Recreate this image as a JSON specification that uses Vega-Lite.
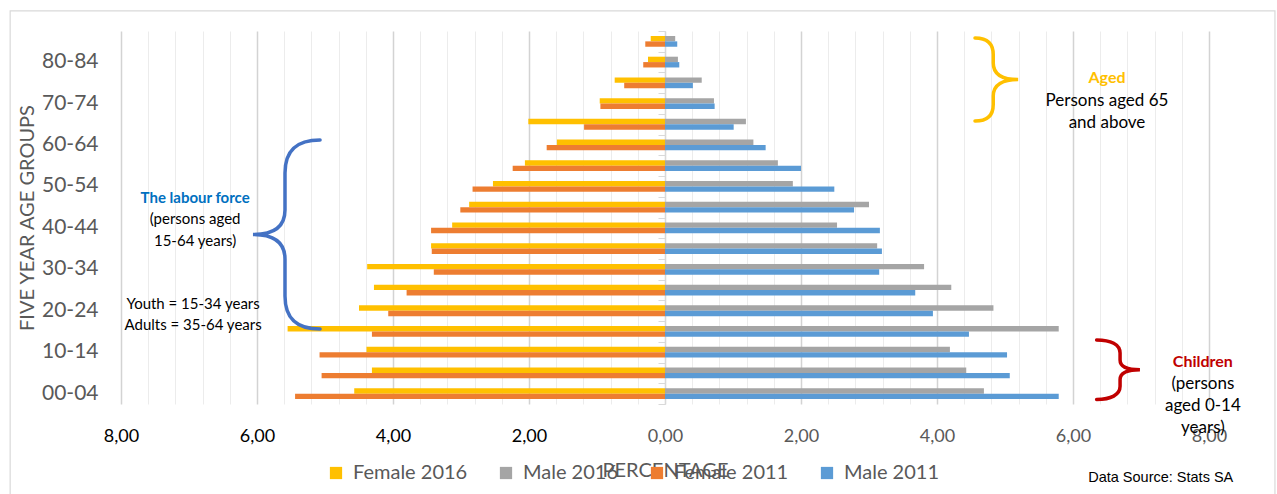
{
  "$schema": "https://vega.github.io/schema/vega-lite/v6.json",
  "width": 1088,
  "height": 373,
  "autosize": "none",
  "padding": {"left": 121, "top": 31, "right": 68, "bottom": 90},
  "background": "white",
  "config": {"view": {"stroke": null}, "font": "Lato"},
  "datasets": {
    "pyramid": [
      {"age": "85+", "series": "Female 2016", "year": "2016", "value": -0.21},
      {"age": "85+", "series": "Female 2011", "year": "2011", "value": -0.29},
      {"age": "85+", "series": "Male 2016", "year": "2016", "value": 0.15},
      {"age": "85+", "series": "Male 2011", "year": "2011", "value": 0.18},
      {"age": "80-84", "series": "Female 2016", "year": "2016", "value": -0.25},
      {"age": "80-84", "series": "Female 2011", "year": "2011", "value": -0.32},
      {"age": "80-84", "series": "Male 2016", "year": "2016", "value": 0.19},
      {"age": "80-84", "series": "Male 2011", "year": "2011", "value": 0.21},
      {"age": "75-79", "series": "Female 2016", "year": "2016", "value": -0.74},
      {"age": "75-79", "series": "Female 2011", "year": "2011", "value": -0.60},
      {"age": "75-79", "series": "Male 2016", "year": "2016", "value": 0.54},
      {"age": "75-79", "series": "Male 2011", "year": "2011", "value": 0.41},
      {"age": "70-74", "series": "Female 2016", "year": "2016", "value": -0.96},
      {"age": "70-74", "series": "Female 2011", "year": "2011", "value": -0.95},
      {"age": "70-74", "series": "Male 2016", "year": "2016", "value": 0.72},
      {"age": "70-74", "series": "Male 2011", "year": "2011", "value": 0.73},
      {"age": "65-69", "series": "Female 2016", "year": "2016", "value": -2.01},
      {"age": "65-69", "series": "Female 2011", "year": "2011", "value": -1.19},
      {"age": "65-69", "series": "Male 2016", "year": "2016", "value": 1.19},
      {"age": "65-69", "series": "Male 2011", "year": "2011", "value": 1.01},
      {"age": "60-64", "series": "Female 2016", "year": "2016", "value": -1.59},
      {"age": "60-64", "series": "Female 2011", "year": "2011", "value": -1.74},
      {"age": "60-64", "series": "Male 2016", "year": "2016", "value": 1.30},
      {"age": "60-64", "series": "Male 2011", "year": "2011", "value": 1.48},
      {"age": "55-59", "series": "Female 2016", "year": "2016", "value": -2.06},
      {"age": "55-59", "series": "Female 2011", "year": "2011", "value": -2.24},
      {"age": "55-59", "series": "Male 2016", "year": "2016", "value": 1.66},
      {"age": "55-59", "series": "Male 2011", "year": "2011", "value": 2.00},
      {"age": "50-54", "series": "Female 2016", "year": "2016", "value": -2.53},
      {"age": "50-54", "series": "Female 2011", "year": "2011", "value": -2.83},
      {"age": "50-54", "series": "Male 2016", "year": "2016", "value": 1.88},
      {"age": "50-54", "series": "Male 2011", "year": "2011", "value": 2.49},
      {"age": "45-49", "series": "Female 2016", "year": "2016", "value": -2.88},
      {"age": "45-49", "series": "Female 2011", "year": "2011", "value": -3.01},
      {"age": "45-49", "series": "Male 2016", "year": "2016", "value": 3.00},
      {"age": "45-49", "series": "Male 2011", "year": "2011", "value": 2.78},
      {"age": "40-44", "series": "Female 2016", "year": "2016", "value": -3.13},
      {"age": "40-44", "series": "Female 2011", "year": "2011", "value": -3.44},
      {"age": "40-44", "series": "Male 2016", "year": "2016", "value": 2.53},
      {"age": "40-44", "series": "Male 2011", "year": "2011", "value": 3.16},
      {"age": "35-39", "series": "Female 2016", "year": "2016", "value": -3.44},
      {"age": "35-39", "series": "Female 2011", "year": "2011", "value": -3.43},
      {"age": "35-39", "series": "Male 2016", "year": "2016", "value": 3.12},
      {"age": "35-39", "series": "Male 2011", "year": "2011", "value": 3.19},
      {"age": "30-34", "series": "Female 2016", "year": "2016", "value": -4.38},
      {"age": "30-34", "series": "Female 2011", "year": "2011", "value": -3.40},
      {"age": "30-34", "series": "Male 2016", "year": "2016", "value": 3.81},
      {"age": "30-34", "series": "Male 2011", "year": "2011", "value": 3.15},
      {"age": "25-29", "series": "Female 2016", "year": "2016", "value": -4.28},
      {"age": "25-29", "series": "Female 2011", "year": "2011", "value": -3.80},
      {"age": "25-29", "series": "Male 2016", "year": "2016", "value": 4.21},
      {"age": "25-29", "series": "Male 2011", "year": "2011", "value": 3.68},
      {"age": "20-24", "series": "Female 2016", "year": "2016", "value": -4.50},
      {"age": "20-24", "series": "Female 2011", "year": "2011", "value": -4.07},
      {"age": "20-24", "series": "Male 2016", "year": "2016", "value": 4.83},
      {"age": "20-24", "series": "Male 2011", "year": "2011", "value": 3.94},
      {"age": "15-19", "series": "Female 2016", "year": "2016", "value": -5.55},
      {"age": "15-19", "series": "Female 2011", "year": "2011", "value": -4.31},
      {"age": "15-19", "series": "Male 2016", "year": "2016", "value": 5.79},
      {"age": "15-19", "series": "Male 2011", "year": "2011", "value": 4.47},
      {"age": "10-14", "series": "Female 2016", "year": "2016", "value": -4.39},
      {"age": "10-14", "series": "Female 2011", "year": "2011", "value": -5.08},
      {"age": "10-14", "series": "Male 2016", "year": "2016", "value": 4.19},
      {"age": "10-14", "series": "Male 2011", "year": "2011", "value": 5.03},
      {"age": "05-09", "series": "Female 2016", "year": "2016", "value": -4.31},
      {"age": "05-09", "series": "Female 2011", "year": "2011", "value": -5.05},
      {"age": "05-09", "series": "Male 2016", "year": "2016", "value": 4.43},
      {"age": "05-09", "series": "Male 2011", "year": "2011", "value": 5.07},
      {"age": "00-04", "series": "Female 2016", "year": "2016", "value": -4.57},
      {"age": "00-04", "series": "Female 2011", "year": "2011", "value": -5.44},
      {"age": "00-04", "series": "Male 2016", "year": "2016", "value": 4.69},
      {"age": "00-04", "series": "Male 2011", "year": "2011", "value": 5.79}
    ],
    "notes": [
      {"t": "The labour force", "x": -6.91, "v": 9.94, "g": "labour", "role": "head"},
      {"t": "(persons aged", "x": -6.91, "v": 8.93, "g": "labour", "role": "body"},
      {"t": "15-64 years)", "x": -6.91, "v": 7.87, "g": "labour", "role": "body"},
      {"t": "Youth = 15-34 years", "x": -6.94, "v": 4.83, "g": "labour", "role": "body"},
      {"t": "Adults = 35-64 years", "x": -6.94, "v": 3.81, "g": "labour", "role": "body"},
      {"t": "Aged", "x": 6.50, "v": 15.73, "g": "aged", "role": "head"},
      {"t": "Persons aged 65", "x": 6.50, "v": 14.62, "g": "aged", "role": "body"},
      {"t": "and above", "x": 6.50, "v": 13.56, "g": "aged", "role": "body"},
      {"t": "Children", "x": 7.91, "v": 2.03, "g": "children", "role": "head"},
      {"t": "(persons", "x": 7.91, "v": 0.97, "g": "children", "role": "body"},
      {"t": "aged 0-14", "x": 7.91, "v": -0.10, "g": "children", "role": "body"},
      {"t": "years)", "x": 7.91, "v": -1.16, "g": "children", "role": "body"}
    ]
  },
  "layer": [
    {
      "data": {"name": "pyramid"},
      "mark": {"type": "bar"},
      "encoding": {
        "y": {
          "field": "age",
          "type": "nominal",
          "scale": {
            "domain": ["85+", "80-84", "75-79", "70-74", "65-69", "60-64", "55-59", "50-54", "45-49", "40-44", "35-39", "30-34", "25-29", "20-24", "15-19", "10-14", "05-09", "00-04"],
            "paddingInner": 0.48,
            "paddingOuter": 0.24
          },
          "axis": {
            "values": ["80-84", "70-74", "60-64", "50-54", "40-44", "30-34", "20-24", "10-14", "00-04"],
            "title": "FIVE YEAR AGE GROUPS",
            "titleFont": "Lato",
            "titleFontSize": 20,
            "titleFontWeight": "normal",
            "titleColor": "#595959",
            "titlePadding": 4,
            "labelFont": "Lato",
            "labelFontSize": 21,
            "labelColor": "#595959",
            "labelPadding": 23,
            "ticks": false,
            "domain": false,
            "grid": false
          }
        },
        "yOffset": {
          "field": "year",
          "type": "nominal",
          "scale": {"domain": ["2016", "2011"], "paddingInner": 0, "paddingOuter": 0}
        },
        "x": {
          "field": "value",
          "type": "quantitative",
          "scale": {"domain": [-8, 8], "nice": false},
          "axis": {
            "values": [-8, -6, -4, -2, 0, 2, 4, 6, 8],
            "labelExpr": "replace(format(abs(datum.value), '.2f'), '.', ',')",
            "labelColor": {"condition": {"test": "datum.value < 0", "value": "#000000"}, "value": "#595959"},
            "labelFont": "Lato",
            "labelFontSize": 18,
            "labelPadding": 23,
            "labelOverlap": false,
            "labelFlush": false,
            "labelBound": false,
            "ticks": false,
            "domain": false,
            "grid": true,
            "gridColor": "#d3d3d3",
            "gridWidth": 1.5,
            "title": "PERCENTAGE",
            "titleFont": "Lato",
            "titleFontSize": 20,
            "titleFontWeight": "normal",
            "titleColor": "#595959",
            "titlePadding": 15
          }
        },
        "color": {
          "field": "series",
          "type": "nominal",
          "scale": {
            "domain": ["Female 2016", "Male 2016", "Female 2011", "Male 2011"],
            "range": ["#FFC000", "#A5A5A5", "#ED7D31", "#5B9BD5"]
          },
          "legend": {
            "orient": "none",
            "legendX": 205,
            "legendY": 432,
            "direction": "horizontal",
            "title": null,
            "padding": 0,
            "symbolType": "square",
            "symbolSize": 150,
            "symbolStrokeWidth": 0,
            "labelFont": "Lato",
            "labelFontSize": 20,
            "labelColor": "#595959",
            "labelOffset": 7,
            "columnPadding": 28
          }
        }
      }
    },
    {
      "encoding": {
        "x": {
          "field": "x",
          "type": "quantitative",
          "scale": {"domain": [-8, 8], "nice": false},
          "axis": {
            "orient": "bottom",
            "values": [-7.6, -7.2, -6.8, -6.4, -5.6, -5.2, -4.8, -4.4, -3.6, -3.2, -2.8, -2.4, -1.6, -1.2, -0.8, -0.4, 0.4, 0.8, 1.2, 1.6, 2.4, 2.8, 3.2, 3.6, 4.4, 4.8, 5.2, 5.6, 6.4, 6.8, 7.2, 7.6],
            "labels": false,
            "ticks": false,
            "domain": false,
            "grid": true,
            "gridColor": "#ececec",
            "gridWidth": 1,
            "title": null
          }
        },
        "y": {
          "field": "v",
          "type": "quantitative",
          "scale": {"domain": [0, 18], "nice": false, "zero": false},
          "axis": {
            "orient": "left",
            "offset": -544,
            "values": [0, 1, 2, 3, 4, 5, 6, 7, 8, 9, 10, 11, 12, 13, 14, 15, 16, 17, 18],
            "labels": false,
            "ticks": true,
            "tickSize": 7,
            "tickColor": "#d9d9d9",
            "domain": true,
            "domainColor": "#d9d9d9",
            "grid": false,
            "title": null
          }
        }
      },
      "layer": [
        {
          "data": {"values": [{"x": -9.63, "x2": 8.97, "v": 18.97, "v2": -4.6}]},
          "mark": {"type": "rect", "fill": null, "stroke": "#d9d9d9", "strokeWidth": 1.2, "clip": false},
          "encoding": {
            "x2": {"field": "x2"},
            "y2": {"field": "v2"}
          }
        },
        {
          "data": {"name": "notes"},
          "transform": [{"filter": "datum.role === 'body'"}],
          "mark": {"type": "text", "align": "center", "baseline": "middle", "font": "Lato", "color": "#000000"},
          "encoding": {
            "text": {"field": "t"},
            "size": {"condition": {"test": "datum.g === 'labour'", "value": 15}, "value": 17}
          }
        },
        {
          "data": {"name": "notes"},
          "transform": [{"filter": "datum.role === 'head'"}],
          "mark": {"type": "text", "align": "center", "baseline": "middle", "font": "Lato", "fontWeight": "bold"},
          "encoding": {
            "text": {"field": "t"},
            "color": {
              "condition": [
                {"test": "datum.g === 'labour'", "value": "#0070C0"},
                {"test": "datum.g === 'aged'", "value": "#FFC000"}
              ],
              "value": "#C00000"
            },
            "size": {"condition": {"test": "datum.g === 'labour'", "value": 15}, "value": 16}
          }
        },
        {
          "data": {"values": [{"t": "Data Source: Stats SA", "x": 7.29, "v": -3.57}]},
          "mark": {"type": "text", "align": "center", "baseline": "middle", "font": "Liberation Sans", "fontSize": 14.5, "color": "#000000"},
          "encoding": {
            "text": {"field": "t"}
          }
        },
        {
          "data": {"values": [{"x": -5.566, "v": 8.18}]},
          "mark": {
            "type": "point",
            "shape": "M0.355,-1 C0.12,-1 -0.016,-0.9 -0.016,-0.65 L-0.016,-0.26 C-0.016,-0.08 -0.14,0 -0.355,0 C-0.14,0 -0.016,0.08 -0.016,0.26 L-0.016,0.65 C-0.016,0.9 0.12,1 0.355,1",
            "size": 35721,
            "filled": false,
            "stroke": "#4472C4",
            "strokeWidth": 3.5,
            "opacity": 1,
            "strokeCap": "round"
          }
        },
        {
          "data": {"values": [{"x": 4.876, "v": 15.66}]},
          "mark": {
            "type": "point",
            "shape": "M-0.52,-1 C-0.2,-1 -0.08,-0.85 -0.08,-0.6 L-0.08,-0.4 C-0.08,-0.12 0.15,0 0.52,0 C0.15,0 -0.08,0.12 -0.08,0.4 L-0.08,0.6 C-0.08,0.85 -0.2,1 -0.52,1",
            "size": 6889,
            "filled": false,
            "stroke": "#FFC000",
            "strokeWidth": 3.5,
            "opacity": 1,
            "strokeCap": "round"
          }
        },
        {
          "data": {"values": [{"x": 6.666, "v": 1.655}]},
          "mark": {
            "type": "point",
            "shape": "M-0.73,-1 C-0.25,-1 0.06,-0.85 0.06,-0.56 L0.06,-0.33 C0.06,-0.1 0.3,0 0.73,0 C0.3,0 0.06,0.1 0.06,0.33 L0.06,0.56 C0.06,0.85 -0.25,1 -0.73,1",
            "size": 3528,
            "filled": false,
            "stroke": "#C00000",
            "strokeWidth": 3.5,
            "opacity": 1,
            "strokeCap": "round"
          }
        }
      ]
    }
  ],
  "resolve": {"scale": {"y": "independent", "x": "independent"}}
}
